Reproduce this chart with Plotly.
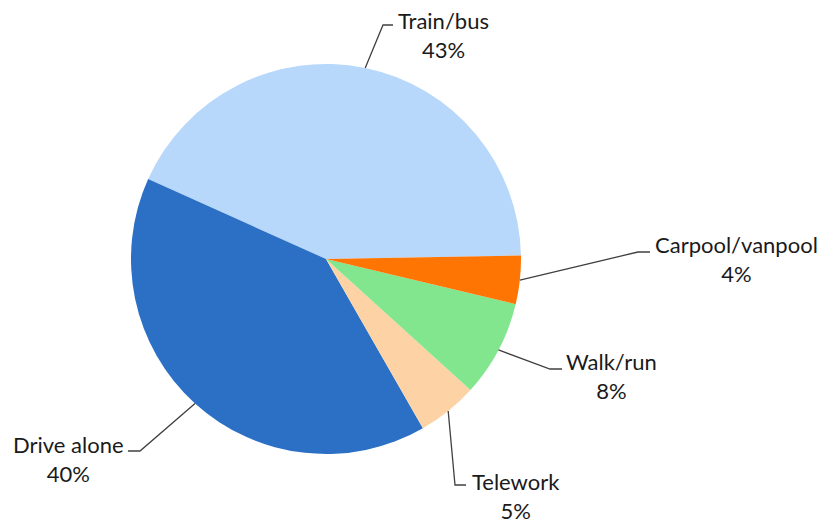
import math
import plotly.graph_objects as go

# Data
categories = ["Train/bus", "Drive alone", "Telework", "Walk/run", "Carpool/vanpool"]
values = [43, 40, 5, 8, 4]
colors = ["#B8D8FB", "#2B70C5", "#FDD2A4", "#82E68E", "#FF7503"]

W, H = 820, 519
CX, CY, R = 326, 259, 195
START_DEG = 1.0  # first slice starts just above 3 o'clock, counterclockwise

# label layout (pixel positions of elbow, line end, text block)
label_layout = {
    "Train/bus":       dict(elbow=(383, 25),  end=(393, 25),  text=(396, 35),    anchor="left"),
    "Carpool/vanpool": dict(elbow=(638, 252), end=(650, 252), text=(653, 259),   anchor="left"),
    "Walk/run":        dict(elbow=(550, 369), end=(562, 369), text=(564, 375.5), anchor="left"),
    "Telework":        dict(elbow=(455, 485), end=(466, 485), text=(470, 496),   anchor="left"),
    "Drive alone":     dict(elbow=(140, 451), end=(128, 451), text=(126, 458.5), anchor="right"),
}

def px(x):
    return x / W

def py(y):
    return 1 - y / H

total = sum(values)
# plotly (counterclockwise): first slice occupies [rotation, rotation + its angle] measured clockwise from 12 o'clock
rotation = 90 - START_DEG - 360 * values[0] / total

fig = go.Figure(go.Pie(
    labels=categories,
    values=values,
    sort=False,
    direction="counterclockwise",
    rotation=rotation,
    marker=dict(colors=colors, line=dict(width=0)),
    textinfo="none",
    hoverinfo="label+percent",
    showlegend=False,
    domain=dict(x=[px(CX - R), px(CX + R)], y=[py(CY + R), py(CY - R)]),
))

cum = 0
shapes = []
annotations = []
for cat, v in zip(categories, values):
    mid = START_DEG + 360 * (cum + v / 2) / total
    cum += v
    a = math.radians(mid)
    sx, sy = CX + R * math.cos(a), CY - R * math.sin(a)
    lay = label_layout[cat]
    ex, ey = lay["elbow"]
    fx, fy = lay["end"]
    shapes.append(dict(type="path", xref="paper", yref="paper",
                       path=f"M {px(sx)},{py(sy)} L {px(ex)},{py(ey)} L {px(fx)},{py(fy)}",
                       line=dict(color="#404040", width=1.3)))
    pct = round(100 * v / total)
    tx, ty = lay["text"]
    annotations.append(dict(xref="paper", yref="paper", x=px(tx), y=py(ty),
                            xanchor=lay["anchor"], yanchor="middle",
                            text=f"{cat}<br>{pct}%", showarrow=False, align="center",
                            font=dict(family="Lato", size=22, color="#1a1a1a")))

fig.update_layout(
    width=W, height=H,
    margin=dict(l=0, r=0, t=0, b=0),
    paper_bgcolor="white", plot_bgcolor="white",
    shapes=shapes, annotations=annotations,
)

fig.write_html("out.html", config={"displayModeBar": False},
               post_script="document.body.style.margin='0px';")
